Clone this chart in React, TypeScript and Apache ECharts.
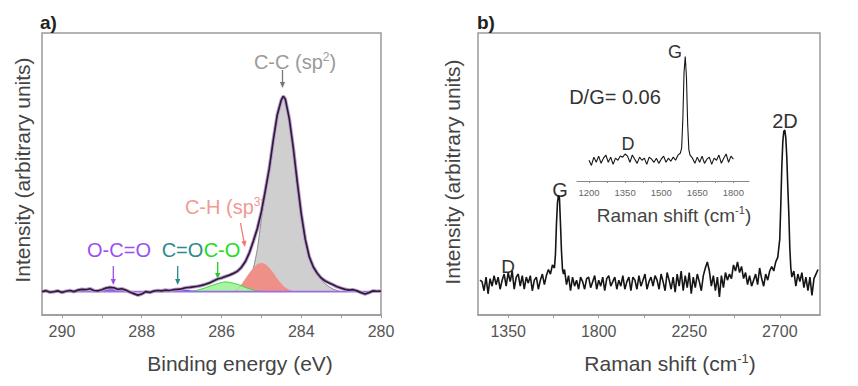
import { useEffect, useRef } from 'react';
import * as echarts from 'echarts';

const FONT = "'Liberation Sans', Arial, Helvetica, sans-serif";

// ---------- Panel a: XPS C1s (binding energy eV, intensity a.u.) ----------
const xpsMeasured: [number, number][] = [
  [290.5, 0.0], [290.4, 0.005], [290.3, -0.003], [290.2, 0.0], [290.1, 0.004], [290.0, -0.004], [289.9, 0.002], [289.8, 0.006], [289.7, 0.0], [289.6, 0.008],
  [289.5, 0.012], [289.4, 0.01], [289.3, 0.015], [289.2, 0.006], [289.1, 0.004], [289.0, 0.01], [288.9, 0.018], [288.8, 0.022], [288.7, 0.02], [288.6, 0.012],
  [288.5, 0.015], [288.4, 0.008], [288.3, -0.002], [288.2, -0.01], [288.1, -0.018], [288.0, -0.012], [287.9, 0.0], [287.8, -0.004], [287.7, 0.003], [287.6, 0.006],
  [287.5, 0.004], [287.4, 0.008], [287.3, 0.006], [287.2, 0.01], [287.1, 0.012], [287.0, 0.014], [286.9, 0.02], [286.8, 0.022], [286.7, 0.025], [286.6, 0.028],
  [286.5, 0.032], [286.4, 0.038], [286.3, 0.045], [286.2, 0.055], [286.1, 0.065], [286.0, 0.07], [285.9, 0.078], [285.8, 0.085], [285.7, 0.094], [285.6, 0.105],
  [285.5, 0.125], [285.4, 0.155], [285.3, 0.2], [285.2, 0.26], [285.1, 0.325], [285.0, 0.41], [284.9, 0.52], [284.8, 0.635], [284.7, 0.78], [284.6, 0.91],
  [284.5, 0.985], [284.45, 1.005], [284.4, 0.99], [284.3, 0.89], [284.2, 0.74], [284.1, 0.565], [284.0, 0.4], [283.9, 0.27], [283.8, 0.18], [283.7, 0.128],
  [283.6, 0.095], [283.5, 0.07], [283.4, 0.055], [283.3, 0.045], [283.2, 0.035], [283.1, 0.025], [283.0, 0.018], [282.9, 0.012], [282.8, 0.008], [282.7, 0.01],
  [282.6, 0.004], [282.5, -0.005], [282.4, -0.012], [282.3, -0.005], [282.2, 0.004], [282.1, 0.002], [282.0, 0.003],
];

const xpsBackground: [number, number][] = [[290.5, 0], [282.0, 0]];

const ccSp2: [number, number][] = [
  [285.6, 0], [285.5, 0.008], [285.4, 0.025], [285.3, 0.06], [285.2, 0.12], [285.1, 0.22], [285.0, 0.37], [284.9, 0.5], [284.8, 0.63], [284.7, 0.77],
  [284.6, 0.9], [284.5, 0.975], [284.45, 0.995], [284.4, 0.98], [284.3, 0.88], [284.2, 0.735], [284.1, 0.56], [284.0, 0.395], [283.9, 0.265], [283.8, 0.175],
  [283.7, 0.12], [283.6, 0.085], [283.5, 0.06], [283.4, 0.04], [283.3, 0.025], [283.2, 0.013], [283.1, 0.006], [283.0, 0],
];

const chSp3: [number, number][] = [
  [285.7, 0], [285.6, 0.01], [285.5, 0.035], [285.4, 0.065], [285.3, 0.095], [285.2, 0.12], [285.1, 0.14], [285.0, 0.146], [284.9, 0.14], [284.8, 0.12],
  [284.7, 0.095], [284.6, 0.065], [284.5, 0.04], [284.4, 0.02], [284.3, 0.008], [284.2, 0],
];

const cO: [number, number][] = [
  [286.8, 0], [286.6, 0.008], [286.4, 0.02], [286.2, 0.035], [286.0, 0.047], [285.9, 0.05], [285.8, 0.048], [285.6, 0.038], [285.4, 0.022], [285.2, 0.008], [285.0, 0],
];

const cDoubleO: [number, number][] = [
  [287.5, 0], [287.35, 0.004], [287.2, 0.008], [287.05, 0.009], [286.9, 0.007], [286.75, 0.003], [286.6, 0],
];

const oCDoubleO: [number, number][] = [
  [289.0, 0], [288.9, 0.008], [288.8, 0.014], [288.7, 0.016], [288.6, 0.014], [288.5, 0.008], [288.4, 0],
];

const xpsTickValues = [282, 283, 284, 285, 286, 287, 288, 289, 290];
const xpsLabelValues = [282, 284, 286, 288, 290];
const xpsLabelText: Record<number, string> = { 282: '280', 284: '284', 286: '286', 288: '288', 290: '290' };

// ---------- Panel b: Raman (cm-1, intensity a.u.) ----------
const ramanMain: [number, number][] = [
  [1210, 0.01], [1220, 0.0], [1230, -0.06], [1240, 0.03], [1250, -0.08], [1260, 0.02], [1270, -0.03], [1280, 0.04], [1290, -0.02], [1300, 0.03], [1310, -0.05],
  [1320, 0.01], [1330, 0.05], [1340, -0.03], [1350, 0.06], [1360, 0.0], [1370, 0.07], [1380, -0.05], [1390, 0.03], [1400, 0.05], [1410, -0.03],
  [1420, 0.04], [1430, -0.05], [1440, 0.03], [1450, -0.01], [1460, 0.04], [1470, -0.06], [1480, 0.01], [1490, 0.03], [1500, -0.05], [1510, 0.01],
  [1520, 0.05], [1530, -0.02], [1540, 0.04], [1550, 0.08], [1560, 0.05], [1570, 0.11], [1580, 0.09], [1585, 0.18], [1590, 0.38], [1595, 0.52],
  [1600, 0.57], [1605, 0.55], [1610, 0.38], [1615, 0.2], [1620, 0.08], [1625, 0.05], [1630, 0.08], [1640, -0.02], [1650, 0.04], [1660, -0.06],
  [1670, 0.03], [1680, -0.03], [1690, 0.01], [1700, -0.05], [1710, 0.03], [1720, 0.0], [1730, -0.05], [1740, 0.02], [1750, 0.03], [1760, -0.04],
  [1770, 0.0], [1780, 0.04], [1790, -0.05], [1800, 0.01], [1810, -0.03], [1820, 0.03], [1830, -0.06], [1840, 0.02], [1850, 0.04], [1860, -0.03],
  [1870, 0.0], [1880, 0.03], [1890, -0.05], [1900, 0.01], [1910, -0.03], [1920, 0.04], [1930, -0.05], [1940, 0.0], [1950, 0.03], [1960, -0.06],
  [1970, 0.03], [1980, 0.01], [1990, -0.05], [2000, 0.04], [2010, -0.03], [2020, 0.01], [2030, 0.05], [2040, -0.05], [2050, 0.0], [2060, 0.03],
  [2070, -0.03], [2080, 0.04], [2090, 0.01], [2100, -0.05], [2110, 0.05], [2120, 0.0], [2130, -0.06], [2140, 0.06], [2150, 0.01], [2160, -0.05],
  [2170, 0.03], [2180, -0.07], [2190, 0.05], [2200, -0.03], [2210, 0.07], [2220, -0.06], [2230, 0.04], [2240, -0.04], [2250, 0.06], [2260, -0.08],
  [2270, 0.03], [2280, -0.04], [2290, 0.05], [2300, 0.0], [2310, -0.06], [2320, 0.04], [2330, 0.09], [2340, 0.13], [2350, 0.07], [2360, -0.03],
  [2370, 0.04], [2380, -0.06], [2390, 0.03], [2400, -0.1], [2410, 0.04], [2420, -0.04], [2430, 0.06], [2440, 0.01], [2450, 0.05], [2460, 0.02],
  [2470, 0.11], [2480, 0.07], [2490, 0.13], [2500, 0.06], [2510, 0.1], [2520, 0.02], [2530, 0.06], [2540, -0.02], [2550, 0.04], [2560, -0.03],
  [2570, 0.01], [2580, 0.05], [2590, -0.02], [2600, 0.09], [2610, 0.02], [2620, -0.03], [2630, 0.05], [2640, 0.01], [2650, 0.07], [2660, 0.1],
  [2670, 0.07], [2680, 0.13], [2690, 0.16], [2700, 0.28], [2705, 0.5], [2710, 0.75], [2715, 0.92], [2720, 0.99], [2725, 1.0], [2730, 0.95],
  [2735, 0.82], [2740, 0.62], [2745, 0.45], [2750, 0.22], [2755, 0.09], [2760, 0.03], [2770, 0.07], [2780, -0.03], [2790, 0.05], [2800, 0.0],
  [2810, 0.06], [2820, -0.04], [2830, 0.03], [2840, -0.06], [2850, 0.03], [2860, -0.09], [2870, 0.02], [2880, 0.05], [2890, 0.08],
];

const ramanInset: [number, number][] = [
  [1200, 0.0], [1210, -0.05], [1220, 0.03], [1230, -0.02], [1240, 0.04], [1250, -0.03], [1260, 0.02], [1270, 0.05], [1280, -0.02], [1290, 0.03],
  [1300, -0.04], [1310, 0.02], [1320, 0.0], [1330, 0.04], [1340, 0.03], [1350, 0.06], [1360, 0.04], [1370, -0.02], [1380, 0.05], [1390, 0.01],
  [1400, -0.03], [1410, 0.03], [1420, 0.0], [1430, 0.02], [1440, -0.04], [1450, 0.03], [1460, 0.01], [1470, -0.02], [1480, 0.02], [1490, -0.03],
  [1500, 0.01], [1510, 0.04], [1520, -0.02], [1530, 0.02], [1540, -0.01], [1550, 0.03], [1560, 0.0], [1570, 0.05], [1580, 0.07], [1585, 0.12],
  [1590, 0.4], [1595, 0.85], [1600, 1.0], [1605, 0.8], [1610, 0.35], [1615, 0.1], [1620, 0.05], [1630, 0.02], [1640, -0.03], [1650, 0.03],
  [1660, -0.02], [1670, 0.04], [1680, -0.03], [1690, 0.01], [1700, 0.03], [1710, -0.04], [1720, 0.02], [1730, 0.0], [1740, 0.05], [1750, -0.03],
  [1760, 0.02], [1770, 0.06], [1780, -0.02], [1790, 0.04], [1800, 0.01],
];

const ramanTickValues = [1350, 1575, 1800, 2025, 2250, 2475, 2700];
const ramanLabelValues = [1350, 1800, 2250, 2700];
const insetTickValues = [1200, 1275, 1350, 1425, 1500, 1575, 1650, 1725, 1800];
const insetLabelValues = [1200, 1350, 1500, 1650, 1800];

const FRAME = '#9a9a9a';
const TEXT = '#444';

function arrow(x1: number, y1: number, x2: number, y2: number, color: string) {
  const ang = Math.atan2(y2 - y1, x2 - x1);
  const hl = 6;
  const hw = 2.6;
  const bx = x2 - hl * Math.cos(ang);
  const by = y2 - hl * Math.sin(ang);
  const px = -Math.sin(ang) * hw;
  const py = Math.cos(ang) * hw;
  return [
    { type: 'line', silent: true, shape: { x1, y1, x2: bx, y2: by }, style: { stroke: color, lineWidth: 1.3 } },
    { type: 'polygon', silent: true, shape: { points: [[x2, y2], [bx + px, by + py], [bx - px, by - py]] }, style: { fill: color } },
  ];
}

function label(x: number, y: number, text: string, color: string, size: number, extra: any = {}, rotation = 0) {
  return {
    type: 'text',
    x,
    y,
    rotation,
    silent: true,
    style: {
      text,
      fill: color,
      fontSize: size,
      fontFamily: FONT,
      align: 'center',
      verticalAlign: 'middle',
      ...extra,
    },
  };
}

function supText(x: number, y: number, base: string, sup: string, tail: string, color: string, size: number) {
  return {
    type: 'text',
    x,
    y,
    silent: true,
    style: {
      text: `{n|${base}}{s|${sup}}{n|${tail}}`,
      align: 'center',
      verticalAlign: 'middle',
      rich: {
        n: { fontSize: size, fontFamily: FONT, fill: color, lineHeight: size + 2 },
        s: { fontSize: Math.round(size * 0.6), fontFamily: FONT, fill: color, verticalAlign: 'top', lineHeight: size + 2 },
      },
    },
  };
}

function xpsLine(data: [number, number][], line: string, fill: string, z: number, lineWidth = 1) {
  return {
    type: 'line',
    xAxisIndex: 0,
    yAxisIndex: 0,
    data,
    symbol: 'none',
    smooth: 0.25,
    z,
    lineStyle: { color: line, width: lineWidth },
    areaStyle: { color: fill, opacity: 1 },
  };
}

export default function App() {
  const ref = useRef<HTMLDivElement>(null);

  useEffect(() => {
    if (!ref.current) return;
    const chart = echarts.init(ref.current, undefined, { renderer: 'svg' });

    const tickLabelStyle = { fontSize: 16, color: '#555', fontFamily: FONT, margin: 8 };

    const option: any = {
      animation: false,
      backgroundColor: '#fff',
      grid: [
        { left: 42, top: 33, width: 339, height: 282, show: true, borderColor: FRAME, borderWidth: 1.5, backgroundColor: 'transparent' },
        { left: 478, top: 33, width: 342, height: 282, show: true, borderColor: FRAME, borderWidth: 1.5, backgroundColor: 'transparent' },
        { left: 577, top: 45, width: 172, height: 136, show: false },
      ],
      xAxis: [
        {
          gridIndex: 0,
          type: 'value',
          min: 282,
          max: 290.5,
          inverse: true,
          splitLine: { show: false },
          axisLine: { show: true, onZero: false, lineStyle: { color: FRAME, width: 1.5 } },
          axisTick: { show: true, inside: false, length: 3, customValues: xpsTickValues, lineStyle: { color: FRAME, width: 1 } },
          axisLabel: { ...tickLabelStyle, customValues: xpsLabelValues, formatter: (v: number) => xpsLabelText[v] ?? String(v) },
        },
        {
          gridIndex: 1,
          type: 'value',
          min: 1200,
          max: 2900,
          splitLine: { show: false },
          axisLine: { show: true, onZero: false, lineStyle: { color: FRAME, width: 1.5 } },
          axisTick: { show: true, inside: false, length: 3, customValues: ramanTickValues, lineStyle: { color: FRAME, width: 1 } },
          axisLabel: { ...tickLabelStyle, customValues: ramanLabelValues, formatter: (v: number) => String(v) },
        },
        {
          gridIndex: 2,
          type: 'value',
          min: 1150,
          max: 1865,
          splitLine: { show: false },
          axisLine: { show: true, onZero: false, lineStyle: { color: '#888', width: 1 } },
          axisTick: { show: true, inside: false, length: 2, customValues: insetTickValues, lineStyle: { color: '#888', width: 1 } },
          axisLabel: { fontSize: 9.5, color: '#666', fontFamily: FONT, margin: 6, customValues: insetLabelValues, formatter: (v: number) => String(v) },
        },
      ],
      yAxis: [
        { gridIndex: 0, type: 'value', min: -0.12, max: 1.33, show: false, splitLine: { show: false } },
        { gridIndex: 1, type: 'value', min: -0.22, max: 1.64, show: false, splitLine: { show: false } },
        { gridIndex: 2, type: 'value', min: -0.2, max: 1.11, show: false, splitLine: { show: false } },
      ],
      series: [
        xpsLine(ccSp2, '#8a8a8a', '#cfcfcf', 2),
        xpsLine(chSp3, '#ef8a82', '#ef9088', 3, 0.5),
        xpsLine(cO, '#3ad83a', '#a8f4a2', 3, 1),
        xpsLine(cDoubleO, '#2a5ad0', '#4a6ee0', 3, 1),
        xpsLine(oCDoubleO, '#7a4ae0', '#8c5ee8', 3, 1),
        {
          type: 'line', xAxisIndex: 0, yAxisIndex: 0, data: xpsBackground, symbol: 'none', z: 4,
          lineStyle: { color: '#9c6ce0', width: 1.6 },
        },
        {
          type: 'line', xAxisIndex: 0, yAxisIndex: 0, data: xpsMeasured, symbol: 'none', z: 5,
          lineStyle: { color: '#c09ad8', width: 3.6 },
        },
        {
          type: 'line', xAxisIndex: 0, yAxisIndex: 0, data: xpsMeasured, symbol: 'none', z: 6,
          lineStyle: { color: '#2a2030', width: 1.7 },
        },
        {
          type: 'line', xAxisIndex: 1, yAxisIndex: 1, data: ramanMain, symbol: 'none', z: 5,
          lineStyle: { color: '#151515', width: 1.6 },
        },
        {
          type: 'line', xAxisIndex: 2, yAxisIndex: 2, data: ramanInset, symbol: 'none', z: 5,
          lineStyle: { color: '#151515', width: 1.1 },
        },
      ],
      graphic: [
        // panel letters
        label(40, 22, 'a)', '#222', 19, { align: 'left', fontWeight: 'bold' }),
        label(477, 22, 'b)', '#222', 19, { align: 'left', fontWeight: 'bold' }),
        // axis titles
        label(240, 363, 'Binding energy (eV)', TEXT, 21),
        supText(670, 363, 'Raman shift (cm', '-1', ')', TEXT, 21),
        label(22, 170, 'Intensity (arbitrary units)', TEXT, 21, {}, Math.PI / 2),
        label(452, 172, 'Intensity (arbitrary units)', TEXT, 21, {}, Math.PI / 2),
        // XPS annotations
        supText(295, 62, 'C-C (sp', '2', ')', '#9a9a9a', 20),
        ...arrow(282.5, 70, 282.5, 88, '#777'),
        supText(226, 207, 'C-H (sp', '3', ')', '#f29a92', 20),
        ...arrow(240.5, 223, 245, 247, '#f07a72'),
        label(222, 250, 'C-O', '#22dd22', 20),
        ...arrow(217.7, 262, 217.7, 279, '#22cc22'),
        label(182.5, 250, 'C=O', '#2a8b8b', 20),
        ...arrow(177.7, 266, 177.7, 285, '#2a8b8b'),
        label(119, 250, 'O-C=O', '#9b4ff0', 20),
        ...arrow(113.3, 266, 113.3, 285, '#9b4ff0'),
        // Raman annotations
        label(508, 266, 'D', '#333', 19),
        label(560, 190, 'G', '#333', 20),
        label(785, 121, '2D', '#333', 20),
        label(628, 144, 'D', '#333', 18),
        label(675, 52, 'G', '#333', 18),
        label(615, 97, 'D/G= 0.06', '#333', 20),
        supText(674, 215, 'Raman shift (cm', '-1', ')', TEXT, 19),
      ],
    };

    chart.setOption(option);
    return () => chart.dispose();
  }, []);

  return (
    <div
      ref={ref}
      style={{ position: 'fixed', left: 0, top: 0, width: 858, height: 386, background: '#fff' }}
    />
  );
}
